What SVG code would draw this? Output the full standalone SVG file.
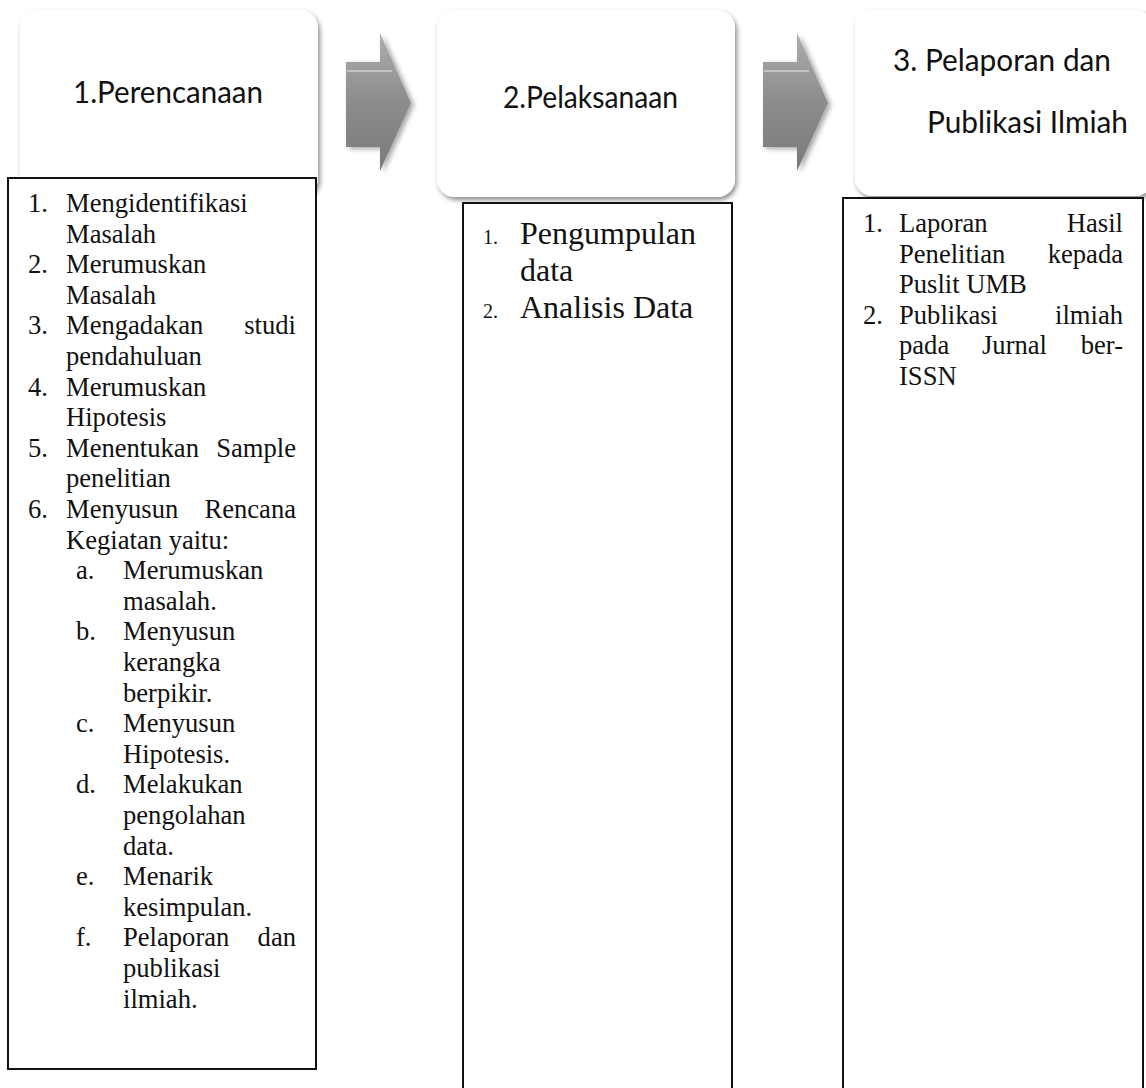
<svg xmlns="http://www.w3.org/2000/svg" width="1146" height="1088" viewBox="0 0 1146 1088">
<style>
.bg{fill:#ffffff}
.rbox{fill:#ffffff;filter:url(#boxShadow)}
.lbox{fill:#ffffff;stroke:#111111;stroke-width:2}
.title{font-family:"Lato","Open Sans","Liberation Sans",sans-serif;font-size:30px;fill:#111111}
.ls{font-family:"Liberation Serif","Times New Roman",serif;font-size:26.6px;fill:#111111}
.big{font-family:"Liberation Serif","Times New Roman",serif;font-size:32px;fill:#111111}
.num{font-family:"Liberation Serif","Times New Roman",serif;font-size:20px;fill:#111111}
.arrow{fill:url(#arrowGrad);filter:url(#arrowShadow)}
.hl{stroke:#c4c4c4;stroke-width:2;fill:none}
.end{text-anchor:end}
</style>
<defs>
<filter id="boxShadow" x="-10%" y="-10%" width="125%" height="125%">
<feDropShadow dx="2" dy="3" stdDeviation="2.5" flood-color="#000000" flood-opacity="0.45"/>
</filter>
<filter id="arrowShadow" x="-30%" y="-20%" width="160%" height="150%">
<feDropShadow dx="3" dy="2" stdDeviation="2.5" flood-color="#000000" flood-opacity="0.35"/>
</filter>
<linearGradient id="arrowGrad" gradientUnits="userSpaceOnUse" x1="0" y1="33" x2="0" y2="173">
<stop offset="0" stop-color="#adadad"/>
<stop offset="0.5" stop-color="#8c8c8c"/>
<stop offset="1" stop-color="#7a7a7a"/>
</linearGradient>
</defs>
<rect class="bg" x="0" y="0" width="1146" height="1088"/>

<g id="connectors">
<g id="arrow1">
<polygon class="arrow" points="346,62 380,62 380,33 411,103 380,171 380,147 346,147"/>
<line class="hl" x1="347" y1="71" x2="392" y2="71"/>
</g>
<g id="arrow2">
<polygon class="arrow" points="763,62 797,62 797,33 828,103 797,171 797,147 763,147"/>
<line class="hl" x1="764" y1="71" x2="809" y2="71"/>
</g>
</g>

<g id="node-perencanaan">
<rect class="rbox" x="20" y="10" width="298" height="186" rx="18" ry="18"/>
<text class="title" x="73" y="103" textLength="190" lengthAdjust="spacingAndGlyphs">1.Perencanaan</text>
</g>

<g id="node-pelaksanaan">
<rect class="rbox" x="437" y="10" width="298" height="187" rx="18" ry="18"/>
<text class="title" x="503" y="108" textLength="175" lengthAdjust="spacingAndGlyphs">2.Pelaksanaan</text>
</g>

<g id="node-pelaporan">
<rect class="rbox" x="855" y="10" width="298" height="186" rx="18" ry="18"/>
<text class="title" x="893" y="71" textLength="218" lengthAdjust="spacingAndGlyphs">3. Pelaporan dan</text>
<text class="title" x="927" y="133" textLength="201" lengthAdjust="spacingAndGlyphs">Publikasi Ilmiah</text>
</g>

<g id="list-perencanaan">
<rect class="lbox" x="8" y="178" width="308" height="891"/>
<text class="ls" x="28" y="212">1.</text><text class="ls" x="66" y="212">Mengidentifikasi</text>
<text class="ls" x="66" y="242.6">Masalah</text>
<text class="ls" x="28" y="273.2">2.</text><text class="ls" x="66" y="273.2">Merumuskan</text>
<text class="ls" x="66" y="303.8">Masalah</text>
<text class="ls" x="28" y="334.4">3.</text><text class="ls" x="66" y="334.4">Mengadakan</text><text class="ls end" x="296" y="334.4">studi</text>
<text class="ls" x="66" y="365">pendahuluan</text>
<text class="ls" x="28" y="395.6">4.</text><text class="ls" x="66" y="395.6">Merumuskan</text>
<text class="ls" x="66" y="426.2">Hipotesis</text>
<text class="ls" x="28" y="456.8">5.</text><text class="ls" x="66" y="456.8">Menentukan</text><text class="ls end" x="296" y="456.8">Sample</text>
<text class="ls" x="66" y="487.4">penelitian</text>
<text class="ls" x="28" y="518">6.</text><text class="ls" x="66" y="518">Menyusun</text><text class="ls end" x="296" y="518">Rencana</text>
<text class="ls" x="66" y="548.6">Kegiatan yaitu:</text>
<text class="ls" x="76" y="579.2">a.</text><text class="ls" x="123" y="579.2">Merumuskan</text>
<text class="ls" x="123" y="609.8">masalah.</text>
<text class="ls" x="76" y="640.4">b.</text><text class="ls" x="123" y="640.4">Menyusun</text>
<text class="ls" x="123" y="671">kerangka</text>
<text class="ls" x="123" y="701.6">berpikir.</text>
<text class="ls" x="76" y="732.2">c.</text><text class="ls" x="123" y="732.2">Menyusun</text>
<text class="ls" x="123" y="762.8">Hipotesis.</text>
<text class="ls" x="76" y="793.4">d.</text><text class="ls" x="123" y="793.4">Melakukan</text>
<text class="ls" x="123" y="824">pengolahan</text>
<text class="ls" x="123" y="854.6">data.</text>
<text class="ls" x="76" y="885.2">e.</text><text class="ls" x="123" y="885.2">Menarik</text>
<text class="ls" x="123" y="915.8">kesimpulan.</text>
<text class="ls" x="76" y="946.4">f.</text><text class="ls" x="123" y="946.4">Pelaporan</text><text class="ls end" x="296" y="946.4">dan</text>
<text class="ls" x="123" y="977">publikasi</text>
<text class="ls" x="123" y="1007.6">ilmiah.</text>
</g>

<g id="list-pelaksanaan">
<rect class="lbox" x="463" y="203" width="269" height="900"/>
<text class="num" x="483" y="244">1.</text><text class="big" x="520" y="244">Pengumpulan</text>
<text class="big" x="520" y="281">data</text>
<text class="num" x="483" y="318">2.</text><text class="big" x="520" y="318">Analisis Data</text>
</g>

<g id="list-pelaporan">
<rect class="lbox" x="843" y="198" width="300" height="905"/>
<text class="ls" x="863" y="232">1.</text><text class="ls" x="899" y="232">Laporan</text><text class="ls end" x="1123" y="232">Hasil</text>
<text class="ls" x="899" y="262.6">Penelitian</text><text class="ls end" x="1123" y="262.6">kepada</text>
<text class="ls" x="899" y="293.2">Puslit UMB</text>
<text class="ls" x="863" y="323.8">2.</text><text class="ls" x="899" y="323.8">Publikasi</text><text class="ls end" x="1123" y="323.8">ilmiah</text>
<text class="ls" x="899" y="354.4">pada</text><text class="ls" x="982" y="354.4">Jurnal</text><text class="ls end" x="1123" y="354.4">ber-</text>
<text class="ls" x="899" y="385">ISSN</text>
</g>
</svg>
